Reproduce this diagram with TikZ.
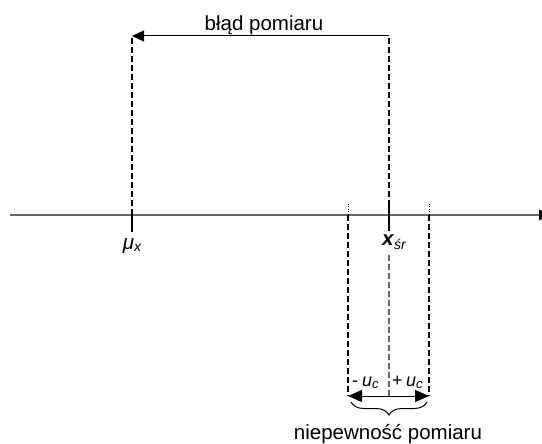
\documentclass[tikz,border=0pt]{standalone}
\usepackage{fontspec}
\setmainfont{Liberation Sans}
\usetikzlibrary{arrows.meta,decorations.pathreplacing}
\begin{document}
\begin{tikzpicture}[x=1pt,y=-1pt,
  every node/.style={inner sep=0pt,outer sep=0pt,font=\fontsize{20.5}{24}\selectfont},
  axisline/.style={draw=black!60,line width=1.6pt},
  tickline/.style={draw=black,line width=1.2pt},
  guide/.style={draw=black,line width=1.1pt,dash pattern=on 6pt off 3pt},
  dotguide/.style={draw=black,line width=1pt,dash pattern=on 1pt off 1.5pt},
  lbl/.style={font=\fontsize{20.5}{24}\selectfont\itshape},
  small/.style={font=\fontsize{18}{21}\selectfont\itshape}]
\useasboundingbox (0,0) rectangle (542,444);

% measured points
\coordinate (mu) at (132,215);
\coordinate (xs) at (389,215);
\coordinate (mutop) at (132,36);
\coordinate (xstop) at (389,36);
\coordinate (axL) at (10,215);
\coordinate (axR) at (539,215);
\coordinate (lm) at (348,215);
\coordinate (lp) at (429,215);
\coordinate (lmtop) at (348,204);
\coordinate (lptop) at (429,204);
\coordinate (lmbot) at (348,396);
\coordinate (lpbot) at (429,396);
\coordinate (xsbot) at (389,396);

% axis
\draw[axisline] (axL) -- (mu) -- (xs) -- (axR);
\fill (axR) ++(0,-5.5) -- ++(12,5.5) -- ++(-12,5.5) -- cycle;

% measurement error arrow with guides
\draw[guide] (mu) -- (mutop);
\draw[guide] (xs) -- (xstop);
\draw[-{Triangle[length=12pt,width=11pt]},line width=1pt] (xstop) -- (mutop);
\node[anchor=base] (err) at (264,31) {błąd pomiaru};

% ticks
\draw[tickline] (mu) -- ++(0,17);
\draw[tickline] (389,200) -- (389,231);

% labels on axis
\node[lbl,anchor=base] (mulbl) at (132,249) {μ\raisebox{-0.25ex}{\fontsize{14}{16}\selectfont x}};
\node[anchor=base west] (xslbl) at (382,246) {\textbf{\itshape x}\raisebox{-0.3ex}{\fontsize{14}{16}\selectfont\itshape śr}};

% uncertainty interval guides
\draw[dotguide] (lmtop) -- (lm);
\draw[dotguide] (lptop) -- (lp);
\draw[guide] (lm) -- (lmbot);
\draw[guide] (lp) -- (lpbot);
\draw[guide,draw=black!60] (389,255) -- (xsbot);

% interval arrow
\draw[{Triangle[length=14pt,width=12pt]}-{Triangle[length=14pt,width=12pt]},line width=1pt] (lmbot) -- (lpbot);
\node[small,anchor=base west] (um) at (352,386) {\upshape -};
\node[small,anchor=base west] (umu) at (362,386) {u\raisebox{-0.3ex}{\fontsize{13}{15}\selectfont c}};
\node[small,anchor=base west] (up) at (392,386) {\upshape +};
\node[small,anchor=base west] (upu) at (406,386) {u\raisebox{-0.3ex}{\fontsize{13}{15}\selectfont c}};

% brace and label
\draw[decorate,decoration={brace,mirror,amplitude=13pt},line width=1pt] (351,402) -- (427,402);
\node[anchor=base] (unc) at (388,439) {niepewność pomiaru};
\end{tikzpicture}
\end{document}
